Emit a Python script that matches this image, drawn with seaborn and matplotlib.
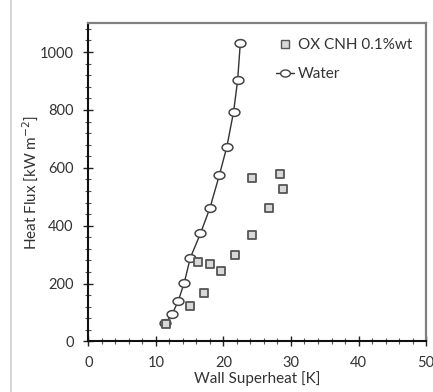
import numpy as np
import pandas as pd
import seaborn as sns
import matplotlib
matplotlib.use("Agg")
import matplotlib.pyplot as plt
from matplotlib.path import Path
from matplotlib.lines import Line2D
from matplotlib.ticker import MultipleLocator

# Pool boiling data: wall superheat [K] vs heat flux [kW m^-2]
water_dT = [11.4, 12.4, 13.3, 14.2, 15.1, 16.6, 18.0, 19.4, 20.5, 21.5, 22.1, 22.5]
water_q = [64, 94, 139, 203, 289, 373, 461, 575, 672, 793, 902, 1031]

cnh_dT = [11.5, 15.0, 16.3, 17.1, 18.0, 19.7, 21.7, 24.3, 24.3, 26.8, 28.4, 28.8]
cnh_q = [60, 123, 273, 166, 269, 245, 300, 367, 566, 461, 580, 528]

series_names = ["OX CNH 0.1%wt", "Water"]
x_ticks = [0, 10, 20, 30, 40, 50]
y_ticks = [0, 200, 400, 600, 800, 1000]

sns.set_theme(style="white")
plt.rcParams["font.family"] = ["Lato", "DejaVu Sans"]

fig = plt.figure(figsize=(4.33, 3.92), dpi=100)
ax = fig.add_axes([0.204, 0.129, 0.780, 0.812])

# flattened circle marker
t = np.linspace(0, 2 * np.pi, 40)
ellipse = Path(np.column_stack([np.cos(t), 0.72 * np.sin(t)]), closed=True)

water = pd.DataFrame({"dT": water_dT, "q": water_q})
cnh = pd.DataFrame({"dT": cnh_dT, "q": cnh_q})

sns.lineplot(data=water, x="dT", y="q", ax=ax, color="#333333", lw=1.0,
             sort=False, marker=ellipse, markersize=7.8, markerfacecolor="white",
             markeredgecolor="#444444", markeredgewidth=1.1, zorder=3)
sns.scatterplot(data=cnh, x="dT", y="q", ax=ax, marker="s", s=40,
                color="#d8d8d8", edgecolor="#555555", linewidth=1.3, zorder=4)

ax.set_xlim(0, 50)
ax.set_ylim(0, 1100)
ax.set_xticks(x_ticks)
ax.set_yticks(y_ticks)
ax.xaxis.set_minor_locator(MultipleLocator(2))
ax.yaxis.set_minor_locator(MultipleLocator(40))
ax.tick_params(which="major", direction="inout", length=7, width=1.0,
               color="#222222", labelsize=10.5, labelcolor="#333333",
               bottom=True, left=True)
ax.tick_params(axis="x", which="major", pad=7)
ax.tick_params(axis="y", which="major", pad=7)
ax.tick_params(which="minor", direction="inout", length=4, width=0.8,
               color="#555555", bottom=True, left=True)

for side in ["left", "bottom"]:
    ax.spines[side].set_color("#111111")
    ax.spines[side].set_linewidth(1.5)
for side in ["top", "right"]:
    ax.spines[side].set_color("#808080")
    ax.spines[side].set_linewidth(1.6)

ax.set_xlabel("Wall Superheat [K]", fontsize=11, color="#333333", labelpad=1)
ax.set_ylabel("Heat Flux [kW m$^{-2}$]", fontsize=11, color="#333333", labelpad=0)

handles = [
    Line2D([], [], ls="none", marker="s", markersize=6, markerfacecolor="#d8d8d8",
           markeredgecolor="#555555", markeredgewidth=1.0),
    Line2D([], [], color="#333333", lw=1.0, marker=ellipse, markersize=7,
           markerfacecolor="white", markeredgecolor="#444444"),
]
ax.legend(handles, series_names, loc="upper left", bbox_to_anchor=(0.556, 0.953),
          frameon=False, fontsize=11, handlelength=1.2, handletextpad=0.2,
          labelspacing=1.0, labelcolor="#333333", borderpad=0, borderaxespad=0)

# thin light border at left edge of the canvas
fig.add_artist(Line2D([0.026, 0.026], [0.0, 1.0], transform=fig.transFigure,
                      color="#d0d0d0", lw=1.2))

fig.savefig("out.png", dpi=100, facecolor="white")
